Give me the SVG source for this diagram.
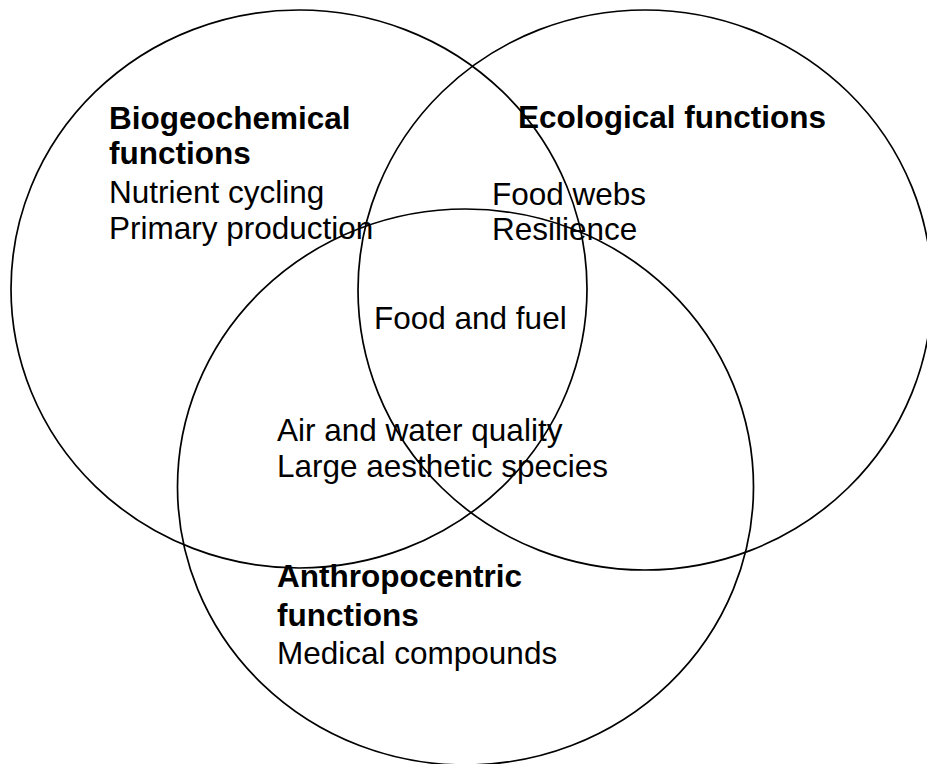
<svg xmlns="http://www.w3.org/2000/svg" width="927" height="764" viewBox="0 0 927 764">
<style>
.c{fill:none;stroke:#000;stroke-width:1.7}
.t{font-family:"Liberation Sans",Arial,sans-serif;font-size:31.5px;fill:#000}
.b{font-weight:bold}
</style>
<rect width="927" height="764" fill="#fff"/>
<g id="connectors"></g>
<g id="biogeochemical">
<ellipse class="c" cx="299" cy="289" rx="288" ry="279"/>
<text class="t b" x="109" y="129">Biogeochemical</text>
<text class="t b" x="109" y="164">functions</text>
<text class="t" x="109" y="203">Nutrient cycling</text>
<text class="t" x="109" y="239">Primary production</text>
</g>
<g id="ecological">
<ellipse class="c" cx="645" cy="290" rx="287" ry="280"/>
<text class="t b" x="518" y="128">Ecological functions</text>
<text class="t" x="492" y="205">Food webs</text>
<text class="t" x="492" y="240">Resilience</text>
</g>
<g id="anthropocentric">
<ellipse class="c" cx="465.5" cy="487" rx="288" ry="278"/>
<text class="t b" x="277" y="587">Anthropocentric</text>
<text class="t b" x="277" y="626">functions</text>
<text class="t" x="277" y="664">Medical compounds</text>
</g>
<g id="overlaps">
<text class="t" x="374" y="329">Food and fuel</text>
<text class="t" x="277" y="441">Air and water quality</text>
<text class="t" x="277" y="477">Large aesthetic species</text>
</g>
</svg>
